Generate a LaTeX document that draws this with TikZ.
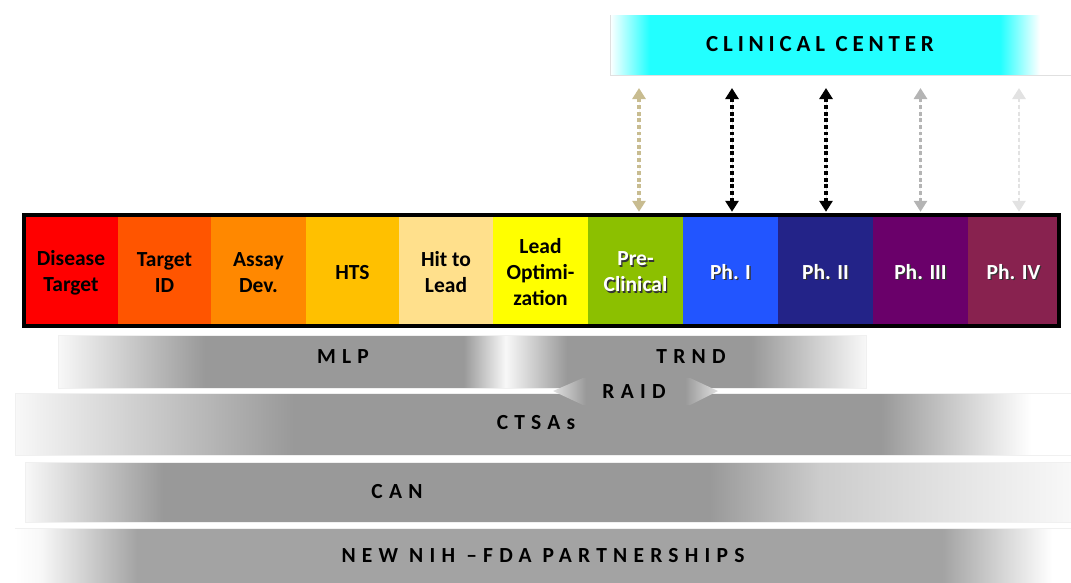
\documentclass[tikz,border=0pt]{standalone}
\usepackage{fontspec}
\setmainfont{Carlito}
\newfontfamily\bandfont[LetterSpace=29]{Carlito}
\newfontfamily\ccfont[LetterSpace=21]{Carlito}
\usetikzlibrary{arrows.meta}
\definecolor{cDT}{HTML}{FF0000}
\definecolor{cTI}{HTML}{FF5500}
\definecolor{cAD}{HTML}{FF8800}
\definecolor{cHT}{HTML}{FFC000}
\definecolor{cHL}{HTML}{FFE08C}
\definecolor{cLO}{HTML}{FFFF00}
\definecolor{cPC}{HTML}{8CC000}
\definecolor{cPa}{HTML}{2255FF}
\definecolor{cPb}{HTML}{232388}
\definecolor{cPc}{HTML}{6A006A}
\definecolor{cPd}{HTML}{88224F}
\definecolor{ccyan}{HTML}{22FFFF}
\definecolor{bgray}{HTML}{999999}
\definecolor{bgrayB}{HTML}{A3A3A3}
\definecolor{bwhite}{HTML}{F8F8F8}
\definecolor{bmid}{HTML}{CCCCCC}
\definecolor{atan}{HTML}{C8BC90}
\definecolor{agray}{HTML}{B4B4B4}
\definecolor{alight}{HTML}{E2E2E2}
\definecolor{raidtip}{HTML}{E0E0E0}
% shadings: path bbox maps to 25bp..75bp
\pgfdeclarehorizontalshading{ccsh}{100bp}{color(0bp)=(white); color(25bp)=(white); color(29.3bp)=(ccyan); color(67.3bp)=(ccyan); color(71.6bp)=(white); color(100bp)=(white)}
\pgfdeclarehorizontalshading{mlpsh}{100bp}{color(0bp)=(bwhite); color(25bp)=(bwhite); color(34.1bp)=(bgray); color(50.1bp)=(bgray); color(52.7bp)=(bwhite); color(56.5bp)=(bgray); color(67.9bp)=(bgray); color(75bp)=(bwhite); color(100bp)=(bwhite)}
\pgfdeclarehorizontalshading{ctsash}{100bp}{color(0bp)=(bwhite); color(25bp)=(bwhite); color(38.2bp)=(bgray); color(66bp)=(bgray); color(73.1bp)=(white); color(100bp)=(white)}
\pgfdeclarehorizontalshading{cansh}{100bp}{color(0bp)=(bwhite); color(25bp)=(bwhite); color(31.6bp)=(bgray); color(57.7bp)=(bgray); color(63bp)=(bmid); color(75bp)=(bwhite); color(100bp)=(bwhite)}
\pgfdeclarehorizontalshading{newsh}{100bp}{color(0bp)=(white); color(25bp)=(white); color(26.2bp)=(bwhite); color(30.8bp)=(bgrayB); color(68.9bp)=(bgrayB); color(74.1bp)=(white); color(100bp)=(white)}
\pgfdeclarehorizontalshading{raidsh}{100bp}{color(0bp)=(raidtip); color(25bp)=(raidtip); color(35bp)=(bgray); color(65bp)=(bgray); color(75bp)=(raidtip); color(100bp)=(raidtip)}
\newcommand\shtxt[1]{\makebox[0pt][l]{\raisebox{-1.3pt}{\hspace*{1.3pt}\textcolor{black!80}{#1}}}\textcolor{white}{#1}}
\begin{document}
\begin{tikzpicture}[x=1pt,y=-1pt,
  cell/.style={minimum height=111pt, inner sep=0pt, align=center,
    font=\fontsize{21.5}{26}\selectfont\bfseries, text=black},
  bandlabel/.style={inner sep=0pt, font=\bandfont\fontsize{21.5}{24}\selectfont\bfseries, text=black},
  dotarrow/.style={line width=4.2pt, dash pattern=on 3.8pt off 2.8pt,
    {Triangle[width=13pt,length=11pt]}-{Triangle[width=13pt,length=11pt]},
    shorten <=7pt, shorten >=13pt},
  bandedge/.style={draw=black!6, line width=0.8pt}]
\useasboundingbox (0,0) rectangle (1071,582);

% Clinical center
\shade[shading=ccsh] (610,15) rectangle (1071,75);
\draw[black!12, line width=0.8pt] (610,15) -- (610,75) -- (1071,75);
\coordinate (ccbase) at (610,75);
\node[inner sep=0pt, font=\ccfont\fontsize{23}{26}\selectfont\bfseries] (cc) at (820,44) {CLINICAL\hspace{0.45em}CENTER};

% Stage cells
\node[cell, fill=cDT, minimum width=94pt] (c1) at (71,272.5) {Disease\\Target};
\node[cell, fill=cTI, minimum width=93pt] (c2) at (164.5,272.5) {Target\\ID};
\node[cell, fill=cAD, minimum width=95pt] (c3) at (258.5,272.5) {Assay\\Dev.};
\node[cell, fill=cHT, minimum width=93pt] (c4) at (352.5,272.5) {HTS};
\node[cell, fill=cHL, minimum width=94pt] (c5) at (446,272.5) {Hit to\\Lead};
\node[cell, fill=cLO, minimum width=95pt] (c6) at (540.5,272.5) {Lead\\Optimi-\\zation};
\node[cell, fill=cPC, minimum width=95pt] (c7) at (635.5,272.5) {\shtxt{Pre-}\\\shtxt{Clinical}};
\node[cell, fill=cPa, minimum width=95pt] (c8) at (730.5,272.5) {\shtxt{Ph. I}};
\node[cell, fill=cPb, minimum width=95pt] (c9) at (825.5,272.5) {\shtxt{Ph. II}};
\node[cell, fill=cPc, minimum width=95pt] (c10) at (920.5,272.5) {\shtxt{Ph. III}};
\node[cell, fill=cPd, minimum width=91pt] (c11) at (1013.5,272.5) {\shtxt{Ph. IV}};
\node[draw=black, line width=4pt, inner sep=0pt, minimum width=1035pt, minimum height=111pt] (bar) at (541.5,270.5) {};

% Arrows to clinical center
\draw[dotarrow, draw=atan, fill=atan, line width=3.4pt] ([xshift=3.5pt,yshift=-2pt]c7.north) -- ([xshift=3.5pt]c7.north |- ccbase);
\draw[dotarrow, draw=black, fill=black] ([xshift=1.5pt,yshift=-2pt]c8.north) -- ([xshift=1.5pt]c8.north |- ccbase);
\draw[dotarrow, draw=black, fill=black] ([xshift=0.5pt,yshift=-2pt]c9.north) -- ([xshift=0.5pt]c9.north |- ccbase);
\draw[dotarrow, draw=agray, fill=agray, line width=3pt] ([yshift=-2pt]c10.north) -- (c10.north |- ccbase);
\draw[dotarrow, draw=alight, fill=alight, line width=2.8pt] ([xshift=5.5pt,yshift=-2pt]c11.north) -- ([xshift=5.5pt]c11.north |- ccbase);

% Program bands
\shade[shading=mlpsh] (58,335) rectangle (866,388);
\draw[bandedge] (58,335) rectangle (866,388);
\node[bandlabel] (mlp) at (343,357) {MLP};
\node[bandlabel] (trnd) at (691,357) {TRND};

\shade[shading=ctsash] (15,393) rectangle (1071,455);
\draw[bandedge] (15,393) -- (1071,393) (15,393) -- (15,455) -- (1071,455);
\node[bandlabel] (ctsa) at (536,423) {CTSAs};

\shade[shading=raidsh] (553,391) -- (583,378) -- (690,378) -- (718,391) -- (690,405) -- (583,405) -- cycle;
\node[bandlabel] (raid) at (634,392) {RAID};

\shade[shading=cansh] (25,462) rectangle (1071,522);
\draw[bandedge] (25,462) -- (1071,462) (25,462) -- (25,522) -- (1071,522);
\node[bandlabel] (can) at (397,492) {CAN};

\shade[shading=newsh] (15,528) rectangle (1071,582);
\draw[bandedge] (15,528) -- (1071,528);
\node[bandlabel] (nih) at (543,556) {NEW NIH –FDA PARTNERSHIPS};
\end{tikzpicture}
\end{document}
